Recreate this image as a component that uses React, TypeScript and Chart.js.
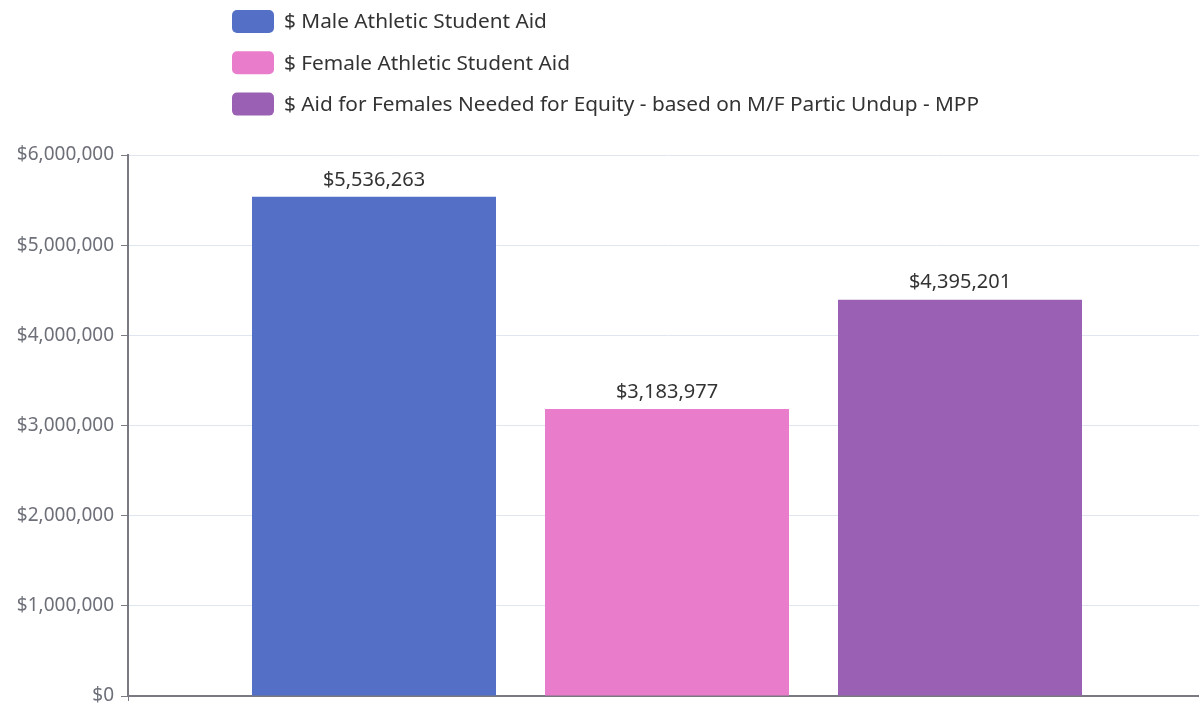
import React, { useEffect, useRef } from "react";
import { Chart, registerables } from "chart.js";

Chart.register(...registerables);

const categories = [""];
const seriesNames = [
  "$ Male Athletic Student Aid",
  "$ Female Athletic Student Aid",
  "$ Aid for Females Needed for Equity - based on M/F Partic Undup - MPP",
];
const maleAid = [5536263];
const femaleAid = [3183977];
const neededAid = [4395201];
const seriesColors = ["#5470c6", "#ea7ccc", "#9a60b4"];
const yTickValues = [0, 1000000, 2000000, 3000000, 4000000, 5000000, 6000000];

const fmt = (v: number) => "$" + Math.round(v).toLocaleString("en-US");

const legendPlugin = {
  id: "vertLegend",
  afterDraw(chart: any) {
    const ctx = chart.ctx;
    ctx.save();
    chart.data.datasets.forEach((ds: any, i: number) => {
      const y = 10 + i * 41.3;
      ctx.fillStyle = ds.backgroundColor;
      ctx.beginPath();
      (ctx as any).roundRect(232, y, 42, 23, 5);
      ctx.fill();
      ctx.fillStyle = "#333";
      ctx.font = "20.8px 'Noto Sans'";
      ctx.textAlign = "left";
      ctx.textBaseline = "middle";
      ctx.fillText(ds.label, 284, y + 12.5);
    });
    ctx.restore();
  },
};

const labelPlugin = {
  id: "barLabels",
  afterDatasetsDraw(chart: any) {
    const ctx = chart.ctx;
    ctx.save();
    ctx.fillStyle = "#333";
    ctx.font = "20px 'Noto Sans'";
    ctx.textAlign = "center";
    ctx.textBaseline = "bottom";
    chart.data.datasets.forEach((ds: any, i: number) => {
      const meta = chart.getDatasetMeta(i);
      meta.data.forEach((el: any, j: number) => {
        ctx.fillText(fmt(ds.data[j]), el.x, el.y - 7);
      });
    });
    ctx.restore();
  },
};

export default function App() {
  const ref = useRef<HTMLCanvasElement>(null);
  useEffect(() => {
    if (!ref.current) return;
    const chart = new Chart(ref.current, {
      type: "bar",
      data: {
        labels: categories,
        datasets: [
          { label: seriesNames[0], data: maleAid, backgroundColor: seriesColors[0] },
          { label: seriesNames[1], data: femaleAid, backgroundColor: seriesColors[1] },
          { label: seriesNames[2], data: neededAid, backgroundColor: seriesColors[2] },
        ],
      },
      options: {
        responsive: false,
        animation: false,
        devicePixelRatio: 1,
        layout: { padding: { top: 155, left: 0, right: 0, bottom: 0 } },
        datasets: { bar: { barPercentage: 0.8328, categoryPercentage: 0.8154 } },
        plugins: { legend: { display: false }, tooltip: { enabled: false } },
        scales: {
          x: {
            ticks: { display: false },
            grid: { display: true, drawOnChartArea: false, offset: true, color: "#7a7b82", tickLength: 5 },
            border: { display: true, color: "#7a7b82", width: 2 },
            afterFit: (s: any) => { s.height = 13; s.paddingLeft = 0; s.paddingRight = 0; },
          },
          y: {
            min: 0,
            max: 6000000,
            afterBuildTicks: (s: any) => { s.ticks = yTickValues.map((v) => ({ value: v })); },
            ticks: {
              color: "#6E7079",
              font: { family: "'Noto Sans'", size: 19 },
              padding: 7,
              callback: (v: any) => fmt(Number(v)),
            },
            grid: { color: "#E0E6F1", tickColor: "#7a7b82", tickLength: 7 },
            border: { display: true, color: "#7a7b82", width: 2 },
            afterFit: (s: any) => { s.width = 128; s.paddingTop = 0; s.paddingBottom = 0; },
          },
        },
      },
      plugins: [legendPlugin, labelPlugin],
    });
    return () => chart.destroy();
  }, []);
  return (
    <div style={{ position: "fixed", left: 0, top: 0, width: 1199, height: 709, overflow: "hidden", background: "#fff" }}>
      <canvas ref={ref} width={1206} height={709} style={{ display: "block" }} />
    </div>
  );
}
